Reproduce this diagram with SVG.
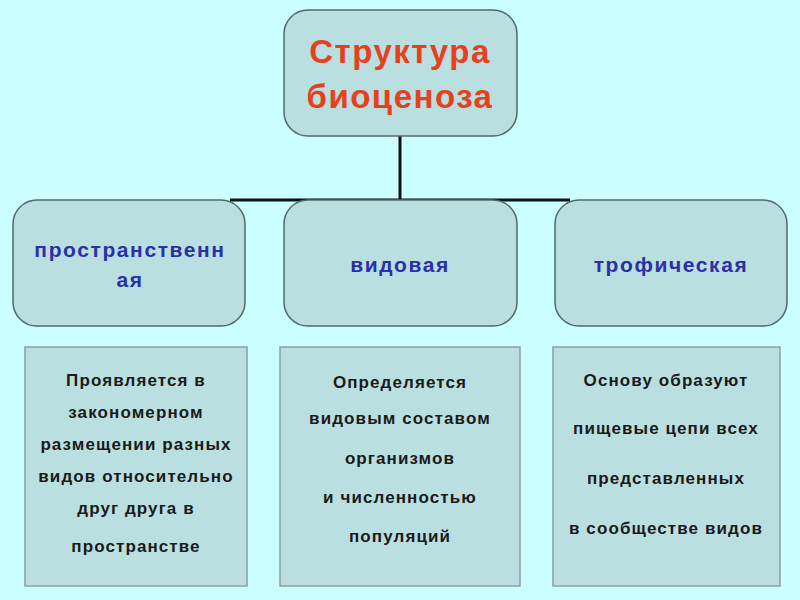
<svg xmlns="http://www.w3.org/2000/svg" width="800" height="600" viewBox="0 0 800 600">
<style>
.n{fill:#badfe0;stroke:#4d6b6b;stroke-width:1.5}
.d{fill:#badfe0;stroke:#8aa0a0;stroke-width:1.5}
.t{font-family:"Liberation Sans",Arial,sans-serif;font-weight:bold;text-anchor:middle}
.h{fill:#e8401c;font-size:33px;letter-spacing:1.5px}
.b{fill:#2a30a8;font-size:21px;letter-spacing:1.6px}
.s{fill:#1a1a1a;font-size:17px;letter-spacing:1.1px}
</style>
<rect width="800" height="600" fill="#ccffff"/>
<g id="connectors" stroke="#111" stroke-width="3" fill="none">
<path d="M400 136V200M230 200H570"/>
</g>
<g id="root"><rect class="n" x="284" y="10" width="233" height="126" rx="24"/>
<text class="t h" x="400" y="63">Структура</text><text class="t h" x="400" y="108">биоценоза</text></g>
<g id="n1"><rect class="n" x="13" y="200" width="232" height="126" rx="24"/>
<text class="t b" x="130" y="257">пространственн</text><text class="t b" x="130" y="287">ая</text></g>
<g id="n2"><rect class="n" x="284" y="200" width="233" height="126" rx="24"/>
<text class="t b" x="400" y="272">видовая</text></g>
<g id="n3"><rect class="n" x="555" y="200" width="232" height="126" rx="24"/>
<text class="t b" x="671" y="272">трофическая</text></g>
<g id="d1"><rect class="d" x="25" y="347" width="222" height="239"/>
<text class="t s"><tspan x="136" y="386">Проявляется в</tspan><tspan x="136" y="418">закономерном</tspan><tspan x="136" y="450">размещении разных</tspan><tspan x="136" y="482">видов относительно</tspan><tspan x="136" y="514">друг друга в</tspan><tspan x="136" y="552">пространстве</tspan></text></g>
<g id="d2"><rect class="d" x="280" y="347" width="240" height="239"/>
<text class="t s"><tspan x="400" y="388">Определяется</tspan><tspan x="400" y="424">видовым составом</tspan><tspan x="400" y="464">организмов</tspan><tspan x="400" y="503">и численностью</tspan><tspan x="400" y="542">популяций</tspan></text></g>
<g id="d3"><rect class="d" x="553" y="347" width="227" height="239"/>
<text class="t s"><tspan x="666" y="386">Основу образуют</tspan><tspan x="666" y="434">пищевые цепи всех</tspan><tspan x="666" y="484">представленных</tspan><tspan x="666" y="534">в сообществе видов</tspan></text></g>
</svg>
